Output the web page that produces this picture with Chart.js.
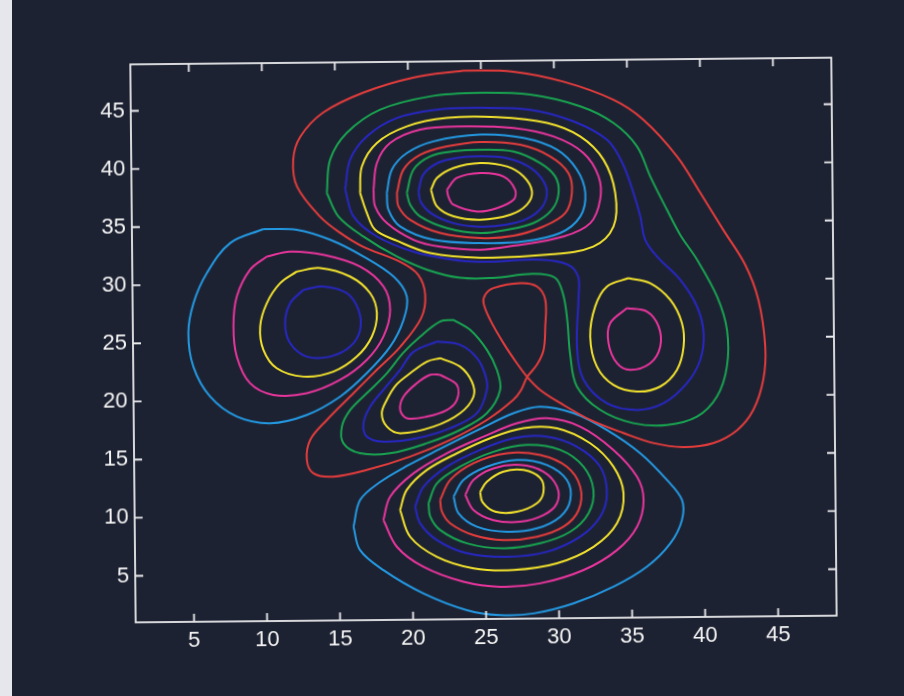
<!DOCTYPE html>
<html>
<head>
<meta charset="utf-8">
<script src="https://cdn.jsdelivr.net/npm/chart.js@4.4.1/dist/chart.umd.min.js"></script>
<style>
html,body{margin:0;padding:0;background:#1d2232;width:904px;height:696px;overflow:hidden;}
#wrap{position:absolute;left:0;top:0;width:904px;height:696px;transform:rotate(-0.55deg);transform-origin:486px 343px;}
#strip{position:absolute;left:0;top:0;width:12px;height:696px;background:#e6e7ec;}
canvas{display:block;}
</style>
</head>
<body>
<div id="wrap"><canvas id="c" width="904" height="696"></canvas></div>
<div id="strip"></div>
<script>
// Axis ticks
const xTicks = [5,10,15,20,25,30,35,40,45];
const yTicks = [5,10,15,20,25,30,35,40,45];

// ---- Contour lines (x, y in data units) ----
// level 2 (red): big envelope incl. the teardrop through the saddle
const T1_red = [[23.79,48.19],[27.21,48.06],[30.63,47.16],[34.04,45.57],[36.09,43.82],[38.39,40.61],[39.94,37.49],[41.49,34.28],[42.97,31.26],[43.85,28.23],[44.29,24.18],[44.13,21.34],[43.43,18.76],[42.32,17.05],[40.67,15.95],[38.61,15.63],[36.56,16.00],[34.51,16.89],[32.26,18.04],[30.21,19.52],[28.85,20.66],[27.97,21.79],[27.27,22.98],[26.37,24.71],[25.47,26.73],[25.03,28.17],[25.15,28.89],[25.72,29.46],[27.55,29.86],[28.70,29.56],[29.26,28.40],[29.24,26.11],[29.11,24.10],[28.64,22.82],[27.97,21.79],[27.55,20.68],[27.01,19.83],[25.18,18.12],[22.66,16.43],[19.90,15.03],[16.93,13.92],[14.64,13.37],[13.27,13.68],[12.83,14.83],[13.07,16.55],[14.22,18.25],[16.06,20.53],[17.68,22.52],[19.29,24.48],[20.75,26.95],[21.04,28.94],[20.57,30.67],[19.34,31.80],[16.82,33.12],[15.25,34.34],[13.90,35.74],[12.34,38.34],[12.09,40.67],[12.59,42.64],[14.17,44.70],[16.93,46.38],[20.35,47.63]];
// level 1 (green)
const T2_green = [[14.37,37.77],[14.62,40.64],[15.78,42.93],[18.08,44.90],[21.51,46.00],[24.94,46.26],[28.36,46.07],[31.78,45.02],[34.05,43.56],[35.64,41.53],[36.53,38.93],[37.65,36.05],[38.54,33.89],[39.68,31.73],[41.02,28.55],[41.68,25.67],[41.65,22.51],[40.95,19.94],[39.57,18.23],[37.51,17.54],[35.22,17.72],[32.95,18.89],[31.37,20.92],[30.93,23.65],[30.75,26.66],[30.49,28.83],[29.95,30.29],[28.45,30.65],[25.70,30.34],[23.44,30.37],[21.19,31.09],[19.13,32.25],[16.85,34.00],[15.15,35.75]];
const M_green = [[22.96,26.76],[24.10,25.88],[25.23,24.15],[25.90,22.42],[26.11,20.70],[25.18,18.70],[23.34,17.28],[21.06,16.17],[18.54,15.34],[16.48,15.36],[15.34,16.24],[15.25,17.67],[15.83,19.09],[16.98,20.52],[18.36,22.22],[19.49,23.96],[20.67,25.35],[22.04,26.63]];
// level 0 (blue)
const T3_blue = [[15.63,38.05],[15.99,40.62],[17.15,42.61],[19.22,44.17],[21.96,44.85],[24.93,44.97],[28.35,44.77],[31.31,43.73],[33.58,42.13],[34.62,40.14],[35.37,37.52],[35.82,35.50],[36.14,33.49],[36.95,32.02],[38.51,30.02],[39.64,27.71],[40.08,25.41],[39.83,23.11],[38.90,21.11],[37.29,19.41],[35.47,18.86],[33.41,19.46],[31.83,21.49],[31.40,24.36],[31.54,28.66],[31.53,30.35],[30.85,31.40],[28.94,31.86],[24.82,31.73],[22.55,32.02],[20.27,32.65],[17.77,33.99],[16.18,35.74]];
const M_blue = [[21.81,24.91],[23.40,24.60],[24.54,23.47],[25.10,22.00],[25.20,20.71],[24.50,18.71],[22.66,17.44],[20.38,16.61],[18.09,16.34],[16.95,16.79],[16.73,17.94],[17.20,19.37],[18.12,20.80],[19.27,22.50],[20.20,24.04]];
// level -1 (yellow)
const T4_yellow = [[16.65,37.74],[17.10,36.02],[17.66,34.57],[19.14,33.61],[21.41,32.52],[24.83,32.08],[29.40,32.28],[32.58,32.95],[33.98,34.66],[34.12,37.53],[33.34,40.41],[31.76,42.43],[29.49,43.62],[26.07,44.17],[22.64,44.13],[19.89,43.44],[17.83,42.04],[16.79,40.03]];
const R_yellow = [[34.97,30.20],[36.46,29.75],[37.82,28.30],[38.60,26.29],[38.70,24.27],[38.23,22.27],[37.07,20.85],[35.48,20.44],[33.87,21.03],[32.75,22.62],[32.31,25.20],[32.67,27.79],[33.49,29.50]];
const M_yellow = [[22.02,23.48],[23.38,22.73],[24.18,21.43],[24.28,20.14],[23.35,18.72],[21.52,17.59],[19.23,17.05],[18.33,17.63],[17.99,18.79],[18.34,19.93],[18.99,21.21],[19.96,22.20],[21.11,23.19]];
// level -2 (magenta)
const T5_magenta = [[17.57,38.02],[17.82,40.31],[18.74,42.03],[20.80,43.15],[23.77,43.39],[27.19,43.22],[29.93,42.45],[31.97,41.01],[32.99,38.98],[33.08,36.97],[32.39,34.97],[30.55,33.84],[27.11,33.08],[24.83,32.77],[22.09,33.06],[20.27,33.68],[18.46,35.14],[17.67,36.58]];
const R_magenta = [[34.84,27.62],[36.21,27.32],[37.00,26.02],[37.10,24.29],[36.41,22.87],[35.03,22.31],[34.13,22.90],[33.56,24.63],[33.69,26.35]];
const M_magenta = [[22.01,22.04],[23.15,21.16],[23.14,19.87],[22.45,19.01],[21.07,18.46],[19.70,18.34],[19.25,19.05],[19.49,20.20],[20.41,21.34],[21.33,22.05]];
// levels -3 .. -8 (top hollow)
const T6_cyan = [[18.48,37.72],[18.84,39.73],[19.88,41.15],[21.71,42.13],[24.91,42.67],[27.87,42.35],[30.16,41.31],[31.51,39.58],[32.07,37.56],[31.71,35.55],[30.32,34.14],[27.81,33.45],[24.84,33.34],[21.64,33.66],[19.37,34.84],[18.58,36.28]];
const T7_red = [[19.17,37.71],[19.63,39.72],[20.79,40.99],[22.62,41.68],[24.90,42.04],[27.64,41.77],[29.69,40.74],[30.93,39.29],[31.15,37.57],[30.68,35.85],[29.19,34.72],[27.12,33.94],[24.84,33.77],[22.10,34.24],[20.06,35.40],[19.27,36.56]];
const T8_green = [[19.85,37.71],[20.32,39.71],[21.47,40.84],[23.08,41.25],[24.90,41.37],[27.18,41.20],[29.00,40.18],[30.02,39.01],[30.24,37.58],[29.77,36.15],[28.50,35.02],[26.68,34.46],[24.84,34.20],[22.57,34.66],[20.75,35.68],[20.07,36.69]];
const T9_blue = [[20.65,37.81],[20.98,39.27],[22.02,40.29],[23.39,40.70],[24.89,40.80],[26.61,40.66],[28.11,39.96],[29.06,38.91],[29.44,37.70],[29.11,36.41],[28.07,35.40],[26.57,34.90],[24.85,34.75],[23.14,35.03],[21.64,35.82],[20.82,36.86]];
const T10_yellow = [[21.50,37.97],[21.92,38.97],[23.06,39.82],[24.89,40.23],[26.72,39.91],[27.85,39.04],[28.42,37.74],[28.06,36.60],[26.91,35.75],[24.85,35.35],[23.03,35.66],[21.90,36.53]];
const T11_magenta = [[22.60,37.96],[23.28,38.96],[24.88,39.37],[26.47,39.06],[27.27,37.90],[27.15,37.04],[26.01,36.34],[24.65,36.06],[23.04,36.66],[22.70,37.33]];
// levels 3 .. 6 (left hill)
const L_cyan = [[10.00,34.72],[12.29,34.64],[14.57,33.75],[16.84,32.28],[18.88,30.54],[19.78,28.81],[19.54,26.80],[18.61,24.51],[16.99,22.24],[15.15,20.25],[12.85,18.70],[10.34,18.02],[8.06,18.62],[6.25,20.36],[5.12,22.95],[4.80,25.84],[5.17,28.41],[6.10,30.98],[7.72,33.55]];
const L_magenta = [[10.22,32.36],[11.82,32.77],[14.10,32.46],[16.60,31.42],[18.19,29.69],[18.63,27.67],[18.15,25.38],[17.00,23.39],[15.16,21.69],[12.87,20.57],[10.58,20.45],[8.99,21.48],[8.10,23.78],[7.89,26.37],[8.14,28.95],[9.07,31.24]];
const L_yellow = [[12.27,31.05],[13.87,31.33],[15.91,30.57],[17.27,29.13],[17.72,27.40],[17.36,25.39],[16.32,23.68],[14.71,22.41],[12.65,22.00],[10.83,22.74],[9.93,24.33],[9.72,26.35],[10.19,28.35],[11.12,30.06]];
const L_blue = [[12.71,29.47],[14.08,29.74],[15.67,29.15],[16.46,27.70],[16.56,25.97],[15.87,24.54],[14.49,23.70],[12.89,23.72],[11.76,24.89],[11.43,26.62],[11.79,28.33]];
// levels 3 .. 11 (bottom hill)
const B_cyan1 = [[15.98,9.04],[16.45,11.34],[17.83,12.87],[19.67,14.23],[21.96,15.67],[24.71,17.35],[27.00,18.68],[28.84,19.22],[31.12,18.63],[33.39,17.16],[35.66,15.13],[37.47,12.81],[38.49,11.07],[38.47,9.35],[37.66,7.35],[36.04,5.36],[33.74,3.67],[30.99,2.27],[28.25,1.44],[25.96,1.32],[23.69,1.78],[20.73,3.25],[18.00,5.29],[16.41,7.03]];
const B_magenta1 = [[18.03,9.60],[18.51,11.60],[20.12,13.59],[22.42,15.29],[24.94,16.69],[27.24,17.82],[29.29,18.22],[31.57,17.47],[33.83,15.44],[35.42,13.12],[35.86,11.11],[35.39,8.81],[34.00,6.82],[31.70,5.13],[28.72,4.02],[25.98,3.76],[23.47,4.22],[20.74,5.54],[18.94,7.28]];
const B_yellow1 = [[19.18,10.44],[19.65,12.17],[21.04,13.87],[23.11,15.28],[25.40,16.55],[27.68,17.38],[29.97,17.35],[32.24,16.03],[33.82,14.00],[34.49,11.70],[34.02,9.12],[32.40,7.12],[29.88,5.73],[26.90,5.19],[24.17,5.37],[21.67,6.39],[19.85,8.14]];
const B_blue = [[20.21,10.72],[20.80,12.43],[22.41,14.13],[24.70,15.55],[26.99,16.53],[29.28,16.64],[31.33,15.75],[32.91,14.01],[33.35,11.71],[32.88,9.71],[31.49,8.00],[29.20,6.73],[26.46,6.33],[23.72,6.67],[21.68,7.83],[20.54,9.29]];
const B_green = [[21.13,11.00],[21.72,12.71],[23.32,14.12],[25.61,15.38],[27.90,15.94],[30.18,15.48],[31.77,14.02],[32.43,12.01],[32.08,10.01],[30.82,8.44],[28.75,7.47],[26.23,7.07],[23.73,7.53],[21.91,8.69],[21.24,9.85]];
const B_red = [[21.93,11.28],[22.63,12.99],[24.24,14.41],[26.53,15.24],[28.81,15.07],[30.63,14.03],[31.53,12.30],[31.40,10.29],[30.36,8.88],[28.53,8.04],[26.24,7.78],[24.19,8.23],[22.60,9.26],[22.04,10.27]];
const B_cyan2 = [[22.85,11.55],[23.54,12.98],[25.15,14.10],[27.21,14.66],[29.26,14.20],[30.62,12.89],[30.84,11.17],[30.14,9.74],[28.54,8.76],[26.48,8.49],[24.43,8.95],[23.18,10.11]];
const B_magenta2 = [[23.65,11.68],[24.23,12.97],[25.60,13.95],[27.43,14.22],[29.03,13.62],[29.94,12.32],[29.92,10.89],[29.00,9.89],[27.39,9.34],[25.56,9.50],[24.21,10.38]];
const B_yellow2 = [[24.67,11.93],[25.14,12.81],[26.29,13.66],[27.66,13.79],[28.79,13.09],[29.01,11.90],[28.55,10.91],[27.18,10.20],[25.69,10.22],[24.83,11.06]];

const COLORS = {red:'#e23b3b', green:'#17a24f', blue:'#2626c0', yellow:'#f0e02c', magenta:'#e6349b', cyan:'#2297e0'};

const contourList = [
  [T1_red,'red'],[T2_green,'green'],[M_green,'green'],[T3_blue,'blue'],[M_blue,'blue'],
  [T4_yellow,'yellow'],[R_yellow,'yellow'],[M_yellow,'yellow'],
  [T5_magenta,'magenta'],[R_magenta,'magenta'],[M_magenta,'magenta'],
  [T6_cyan,'cyan'],[T7_red,'red'],[T8_green,'green'],[T9_blue,'blue'],[T10_yellow,'yellow'],[T11_magenta,'magenta'],
  [L_cyan,'cyan'],[L_magenta,'magenta'],[L_yellow,'yellow'],[L_blue,'blue'],
  [B_cyan1,'cyan'],[B_magenta1,'magenta'],[B_yellow1,'yellow'],[B_blue,'blue'],[B_green,'green'],
  [B_red,'red'],[B_cyan2,'cyan'],[B_magenta2,'magenta'],[B_yellow2,'yellow']
];

const datasets = contourList.map(([pts, col]) => ({
  data: pts.concat([pts[0]]).map(p => ({x: p[0], y: p[1]})),
  showLine: true,
  borderColor: COLORS[col],
  borderWidth: 2,
  pointRadius: 0,
  pointHoverRadius: 0,
  tension: 0.35,
  fill: false
}));

const framePlugin = {
  id: 'frame',
  afterDraw(chart) {
    const {ctx, chartArea: a, scales: {x, y}} = chart;
    ctx.save();
    ctx.strokeStyle = '#e9e9ec';
    ctx.lineWidth = 1.8;
    ctx.strokeRect(a.left, a.top, a.right - a.left, a.bottom - a.top);
    const L = 8;
    ctx.beginPath();
    xTicks.forEach(v => {
      const px = x.getPixelForValue(v);
      ctx.moveTo(px, a.bottom); ctx.lineTo(px, a.bottom - L);
      ctx.moveTo(px, a.top); ctx.lineTo(px, a.top + L);
    });
    yTicks.forEach(v => {
      const py = y.getPixelForValue(v);
      ctx.moveTo(a.left, py); ctx.lineTo(a.left + L, py);
      ctx.moveTo(a.right, py); ctx.lineTo(a.right - L, py);
    });
    ctx.stroke();
    ctx.restore();
  }
};

const tickFont = {family: '"Liberation Sans", Arial, Helvetica, sans-serif', size: 22};

new Chart(document.getElementById('c'), {
  type: 'scatter',
  data: {datasets},
  options: {
    responsive: false,
    animation: false,
    devicePixelRatio: 1,
    layout: {padding: {top: 61, right: 70, left: 0, bottom: 0}},
    plugins: {legend: {display: false}, tooltip: {enabled: false}},
    scales: {
      x: {
        type: 'linear', min: 1, max: 49,
        grid: {display: false, drawTicks: false},
        border: {display: false},
        ticks: {color: '#f4f4f4', font: tickFont, padding: 6, maxRotation: 0, autoSkip: false},
        afterBuildTicks: s => { s.ticks = xTicks.map(v => ({value: v})); },
        afterFit: s => { s.height = 77; }
      },
      y: {
        type: 'linear', min: 1, max: 49,
        grid: {display: false, drawTicks: false},
        border: {display: false},
        ticks: {color: '#f4f4f4', font: tickFont, padding: 6, autoSkip: false},
        afterBuildTicks: s => { s.ticks = yTicks.map(v => ({value: v})); },
        afterFit: s => { s.width = 133; }
      }
    }
  },
  plugins: [framePlugin]
});
</script>
</body>
</html>
